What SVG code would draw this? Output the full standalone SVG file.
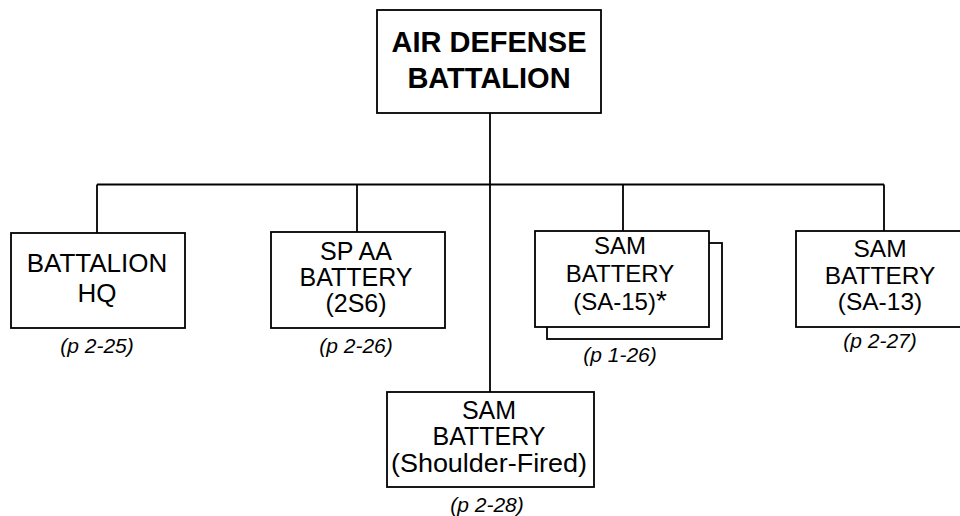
<svg xmlns="http://www.w3.org/2000/svg" width="960" height="516" viewBox="0 0 960 516">
<style>
.box{fill:#fff;stroke:#000;stroke-width:1.8}
.con{fill:none;stroke:#000;stroke-width:1.8}
text{font-family:"Liberation Sans",Arial,sans-serif;fill:#000;text-anchor:middle}
.t{font-size:25px}
.b{font-size:29px;font-weight:bold}
.p{font-size:21px;font-style:italic}
</style>
<rect width="960" height="516" fill="#fff"/>
<g id="connectors">
<path class="con" d="M490 113V392M97 184.5H884M97 184.5V233M357 184.5V232M623 184.5V231M884 184.5V231"/>
</g>
<g id="battalion">
<rect class="box" x="377" y="10" width="224" height="103"/>
<text class="b" x="489" y="52">AIR DEFENSE</text>
<text class="b" x="489" y="88">BATTALION</text>
</g>
<g id="hq">
<rect class="box" x="11" y="233" width="174" height="95"/>
<text class="t" x="97" y="271.5" style="font-size:26px">BATTALION</text>
<text class="t" x="97" y="301.5" style="font-size:26px">HQ</text>
<text class="p" x="97" y="353">(p 2-25)</text>
</g>
<g id="spaa">
<rect class="box" x="271" y="232" width="174" height="96"/>
<text class="t" x="356" y="259.5">SP AA</text>
<text class="t" x="356" y="285.5">BATTERY</text>
<text class="t" x="356" y="312">(2S6)</text>
<text class="p" x="356" y="353">(p 2-26)</text>
</g>
<g id="sa15">
<rect class="box" x="547" y="243" width="175" height="96"/>
<rect class="box" x="535" y="231" width="174" height="96"/>
<text class="t" x="620" y="253.5" style="font-size:24px">SAM</text>
<text class="t" x="620" y="281.5" style="font-size:24px">BATTERY</text>
<text class="t" x="620" y="310" style="font-size:24px">(SA-15)<tspan style="font-size:28px">*</tspan></text>
<text class="p" x="620" y="361.5">(p 1-26)</text>
</g>
<g id="sa13">
<rect class="box" x="796" y="231" width="176" height="96"/>
<text class="t" x="880" y="256.5" style="font-size:24.5px">SAM</text>
<text class="t" x="880" y="284" style="font-size:24.5px">BATTERY</text>
<text class="t" x="880" y="310" style="font-size:24.5px">(SA-13)</text>
<text class="p" x="880" y="348">(p 2-27)</text>
</g>
<g id="shoulder">
<rect class="box" x="387" y="392" width="207" height="95"/>
<text class="t" x="489" y="418.5">SAM</text>
<text class="t" x="489" y="445">BATTERY</text>
<text class="t" x="489" y="471.5" textLength="196" lengthAdjust="spacingAndGlyphs">(Shoulder-Fired)</text>
<text class="p" x="487" y="512">(p 2-28)</text>
</g>
</svg>
